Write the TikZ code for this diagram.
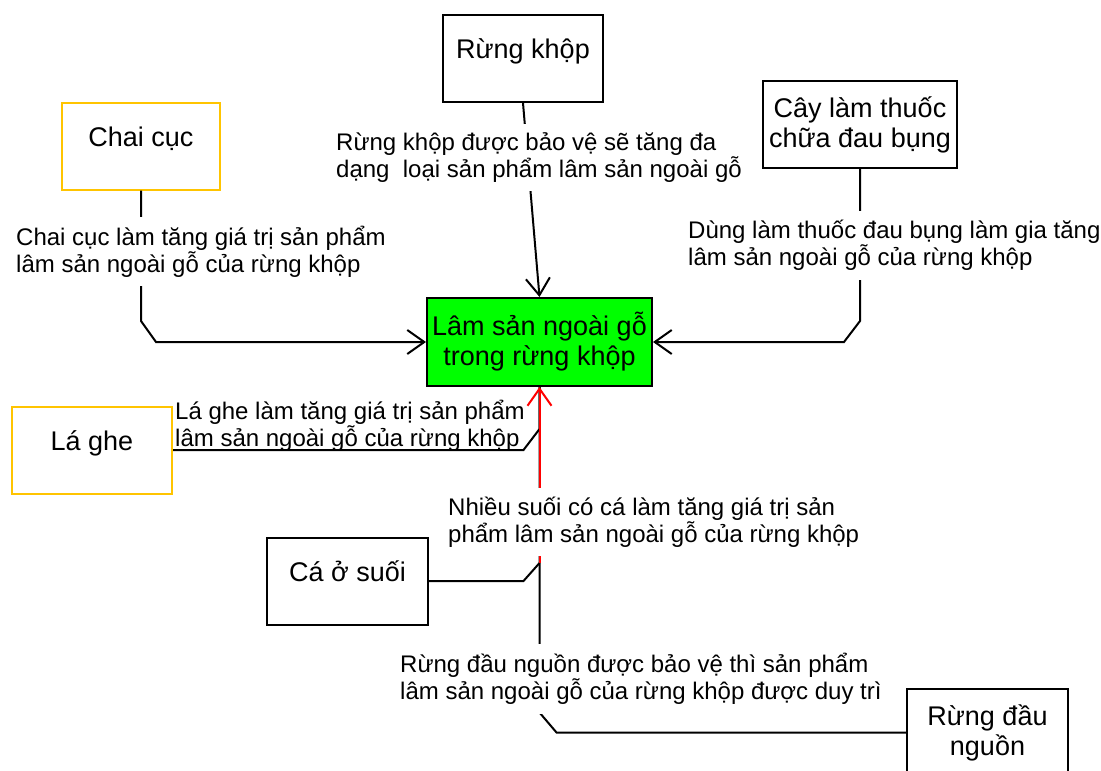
\documentclass[tikz,border=0pt]{standalone}
\usepackage{fontspec}
\setmainfont{Liberation Sans}
\usetikzlibrary{arrows.meta, calc}

\definecolor{vienvang}{RGB}{255,196,0}
\definecolor{xanhla}{RGB}{0,255,0}

\begin{document}
\begin{tikzpicture}[x=1pt, y=-1pt, >={Straight Barb[length=17pt, width=24pt]},
  hop/.style={draw, line width=2pt, minimum width=160pt, minimum height=87pt, inner sep=2pt, align=center, font=\fontsize{27}{30}\selectfont},
  hopdon/.style={hop, text height=20pt, text depth=20pt},
  chu/.style={fill=white, anchor=west, align=left, inner xsep=2pt, inner ysep=9pt, font=\fontsize{24}{27}\selectfont},
  noi/.style={line width=2pt}]

\useasboundingbox (0,0) rectangle (1101,771);

\node[hopdon] (rk) at (523,58.5) {Rừng khộp}; %rung khop
\node[hopdon, draw=vienvang, minimum width=158pt] (chai) at (141,146) {Chai cục}; %chai cuc
\node[hop, minimum width=194pt] (cay) at (860,124.5) {Cây làm thuốc\\chữa đau bụng}; %cay thuoc
\node[hop, fill=xanhla, minimum width=225pt, minimum height=88pt] (lsng) at (539.5,342) {Lâm sản ngoài gỗ\\trong rừng khộp}; %giua
\node[hopdon, draw=vienvang] (lg) at (92,450) {Lá ghe}; %la ghe
\node[hopdon, minimum width=161pt] (cas) at (347.5,581) {Cá ở suối}; %ca o suoi
\node[hop, minimum width=161pt] (rdn) at (987.5,732.5) {Rừng đầu\\nguồn}; %rung dau nguon

\draw[noi, ->] (rk.south) -- (lsng.north);
\draw[noi, ->] (chai.south) -- ($(chai.south |- lsng.west)+(0,-21)$) -- ($(chai.south |- lsng.west)+(15,0)$) -- (lsng.west);
\draw[noi, ->] (cay.south) -- ($(cay.south |- lsng.east)+(0,-21)$) -- ($(cay.south |- lsng.east)+(-16,0)$) -- (lsng.east);
\draw[noi] (lg.east) -- ($(lsng.south |- lg.east)+(-16,0)$) -- ($(lsng.south |- lg.east)+(0,-21)$) -- (lsng.south);
\draw[noi] (rdn.west) -- ($(lsng.south |- rdn.west)+(17,0)$) -- ($(lsng.south |- rdn.west)+(0,-20)$) -- (lsng.south);
\draw[noi] (cas.east) -- ($(lsng.south |- cas.east)+(-16,0)$) -- ($(lsng.south |- cas.east)+(0,-18)$) coordinate (noica);
\draw[noi, red, ->] (noica) -- (lsng.south); %do

\node[chu] (nrk) at (334,157.5) {Rừng khộp được bảo vệ sẽ tăng đa\\dạng\ \ loại sản phẩm lâm sản ngoài gỗ};
\node[chu] (nchai) at (14,251.5) {Chai cục làm tăng giá trị sản phẩm\\lâm sản ngoài gỗ của rừng khộp};
\node[chu] (ncay) at (686,245.5) {Dùng làm thuốc đau bụng làm gia tăng\\lâm sản ngoài gỗ của rừng khộp};
\node[chu, fill=none] (nlg) at (173,425.5) {Lá ghe làm tăng giá trị sản phẩm\\lâm sản ngoài gỗ của rừng khộp};
\node[chu] (ncas) at (446,522) {Nhiều suối có cá làm tăng giá trị sản\\phẩm lâm sản ngoài gỗ của rừng khộp};
\node[chu] (nrdn) at (398,679) {Rừng đầu nguồn được bảo vệ thì sản phẩm\\lâm sản ngoài gỗ của rừng khộp được duy trì};

\end{tikzpicture}
\end{document}
